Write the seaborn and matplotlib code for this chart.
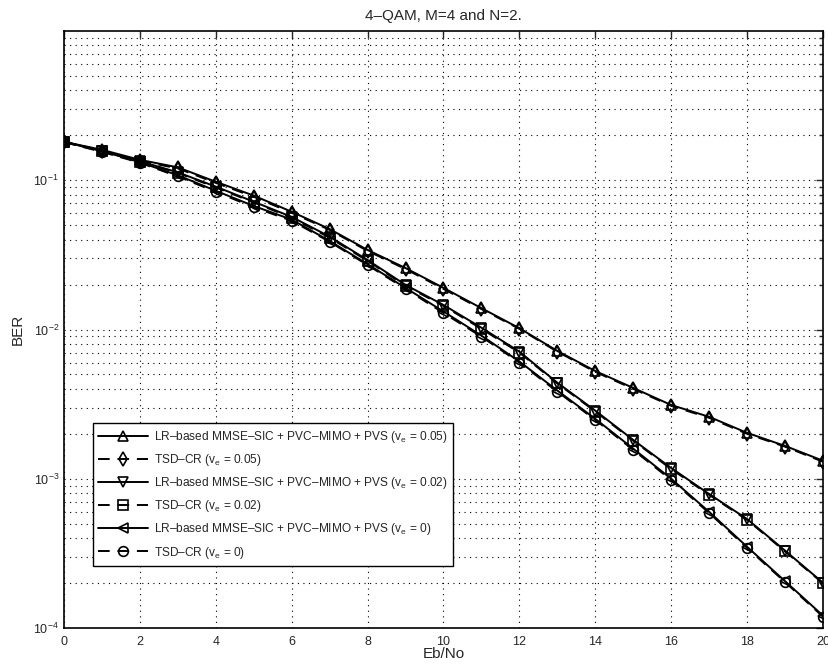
import matplotlib
matplotlib.use("Agg")
import matplotlib.pyplot as plt
import seaborn as sns
import numpy as np
import pandas as pd
from matplotlib.ticker import LogLocator, NullFormatter, FixedLocator

ebno = list(range(0, 21))

lr_005 = [0.181, 0.160, 0.137, 0.122, 0.0977, 0.0789, 0.0615, 0.0471, 0.0341, 0.0258,
          0.0190, 0.0139, 0.0102, 0.00718, 0.00527, 0.00406, 0.00312, 0.00260, 0.00203,
          0.00166, 0.00132]
tsd_005 = [0.181, 0.158, 0.135, 0.120, 0.0960, 0.0775, 0.0605, 0.0465, 0.0336, 0.0254,
           0.0187, 0.0137, 0.0101, 0.00710, 0.00520, 0.00400, 0.00308, 0.00256, 0.00200,
           0.00164, 0.00130]
lr_002 = [0.181, 0.157, 0.134, 0.113, 0.0906, 0.0718, 0.0568, 0.0419, 0.0292, 0.0199,
          0.0146, 0.01028, 0.0071, 0.0044, 0.00286, 0.00182, 0.00118, 0.00079, 0.000537,
          0.00033, 0.000201]
tsd_002 = [0.181, 0.156, 0.133, 0.112, 0.0895, 0.0710, 0.0560, 0.0412, 0.0288, 0.0196,
           0.0144, 0.0101, 0.0070, 0.00435, 0.00282, 0.00180, 0.00116, 0.00078, 0.000530,
           0.000326, 0.000199]
lr_0 = [0.181, 0.157, 0.132, 0.108, 0.0850, 0.0672, 0.0545, 0.0392, 0.0274, 0.0190,
        0.0132, 0.0091, 0.0061, 0.00390, 0.00252, 0.00159, 0.00100, 0.000600, 0.000350,
        0.000206, 0.000121]
tsd_0 = [0.180, 0.155, 0.131, 0.106, 0.0837, 0.0659, 0.0535, 0.0387, 0.0270, 0.0187,
         0.0129, 0.00895, 0.0060, 0.00383, 0.00248, 0.00156, 0.00098, 0.000590, 0.000344,
         0.000203, 0.000119]

labels = [
    "LR\u2013based MMSE\u2013SIC + PVC\u2013MIMO + PVS (v$_\\mathregular{e}$ = 0.05)",
    "TSD\u2013CR (v$_\\mathregular{e}$ = 0.05)",
    "LR\u2013based MMSE\u2013SIC + PVC\u2013MIMO + PVS (v$_\\mathregular{e}$ = 0.02)",
    "TSD\u2013CR (v$_\\mathregular{e}$ = 0.02)",
    "LR\u2013based MMSE\u2013SIC + PVC\u2013MIMO + PVS (v$_\\mathregular{e}$ = 0)",
    "TSD\u2013CR (v$_\\mathregular{e}$ = 0)",
]
series = [lr_005, tsd_005, lr_002, tsd_002, lr_0, tsd_0]
markers = ["^", "d", "v", "s", "<", "o"]
styles = ["-", (0, (6, 4)), "-", (0, (6, 4)), "-", (0, (6, 4))]

x_ticks = list(range(0, 21, 2))
y_ticks = [1e-4, 1e-3, 1e-2, 1e-1]

sns.set_style("white")
plt.rcParams['font.family'] = ['Liberation Sans', 'DejaVu Sans']
plt.rcParams['mathtext.fontset'] = 'custom'
plt.rcParams['mathtext.rm'] = 'Liberation Sans'

fig = plt.figure(figsize=(8.29, 6.72), dpi=100)
ax = fig.add_axes([64 / 829, 44 / 672, 759 / 829, 597 / 672])

for vals, lab, mk, ls in zip(series, labels, markers, styles):
    df = pd.DataFrame({"x": ebno, "y": vals})
    sns.lineplot(data=df, x="x", y="y", ax=ax, color="black", linestyle=ls,
                 marker=mk, markersize=7, markerfacecolor="none",
                 markeredgecolor="black", markeredgewidth=1.2, linewidth=1.4,
                 label=lab)

ax.set_yscale("log")
ax.set_ylim(1e-4, 1)
ax.set_xlim(0, 20)
ax.xaxis.set_major_locator(FixedLocator(x_ticks))
ax.yaxis.set_major_locator(FixedLocator(y_ticks))
ax.yaxis.set_minor_locator(LogLocator(base=10, subs=np.arange(2, 10), numticks=20))
ax.yaxis.set_minor_formatter(NullFormatter())

ax.grid(True, which="major", axis="both", color="black", linestyle=(0, (1, 4)), linewidth=0.8)
ax.grid(True, which="minor", axis="y", color="black", linestyle=(0, (1, 4)), linewidth=0.8)

ax.tick_params(axis="both", which="both", direction="in", top=True, right=True,
               labelsize=9, width=1)
ax.tick_params(axis="x", which="major", pad=6)
ax.tick_params(axis="both", which="major", length=5)
ax.tick_params(axis="both", which="minor", length=3)
for sp in ax.spines.values():
    sp.set_color("black")
    sp.set_linewidth(1.2)

ax.set_title("4\u2013QAM, M=4 and N=2.", fontsize=11, pad=8)
ax.set_xlabel("Eb/No", fontsize=11, labelpad=-1)
ax.set_ylabel("BER", fontsize=11, labelpad=6)

leg = ax.legend(loc="lower left", bbox_to_anchor=(0.030, 0.094), fontsize=8.6,
                frameon=True, fancybox=False, edgecolor="black", framealpha=1,
                handlelength=4.2, borderpad=0.45, labelspacing=0.6, handletextpad=0.5)
leg.get_frame().set_linewidth(1.0)

fig.savefig("out.png", dpi=100)
